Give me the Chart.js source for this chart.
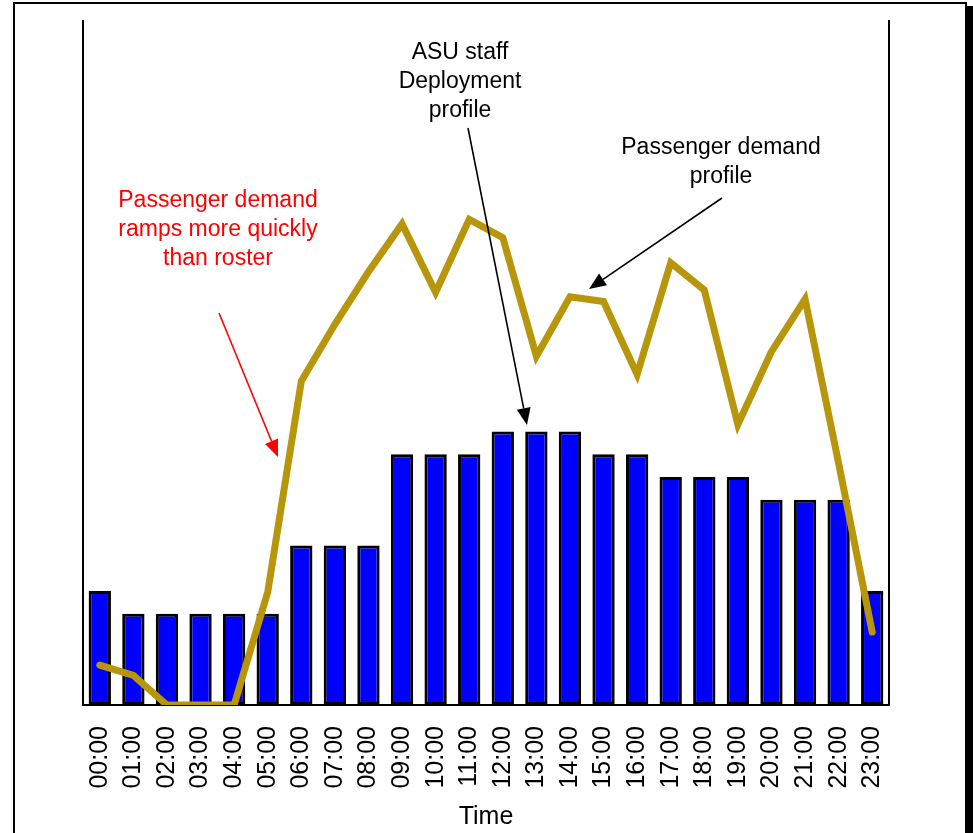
<!DOCTYPE html>
<html>
<head>
<meta charset="utf-8">
<title>ASU staff deployment vs passenger demand</title>
<script src="https://cdn.jsdelivr.net/npm/chart.js@4.4.0/dist/chart.umd.min.js"></script>
<style>
  html, body { margin: 0; padding: 0; background: #fff; }
  #wrap { width: 973px; height: 833px; }
</style>
</head>
<body>
<div id="wrap"><canvas id="chart" width="973" height="833"></canvas></div>
<script>
var FONT = '"Liberation Sans", Arial, Helvetica, sans-serif';

var HOURS = ['00:00', '01:00', '02:00', '03:00', '04:00', '05:00', '06:00', '07:00',
             '08:00', '09:00', '10:00', '11:00', '12:00', '13:00', '14:00', '15:00',
             '16:00', '17:00', '18:00', '19:00', '20:00', '21:00', '22:00', '23:00'];
// staff on duty per hour
var STAFF = [5, 4, 4, 4, 4, 4, 7, 7, 7, 11, 11, 11, 12, 12, 12, 11, 11, 10, 10, 10, 9, 9, 9, 5];
// passengers per hour
var DEMAND = [175, 130, 0, 0, 0, 495, 1420, 1670, 1900, 2110, 1810, 2130,
              2050, 1530, 1790, 1770, 1450, 1940, 1820, 1230, 1550, 1780, 1060, 320];
var STAFF_MAX = 30;
var DEMAND_MAX = 3000;

var ctx = document.getElementById('chart');

function drawLines(c, lines, x, y, step, color) {
  c.fillStyle = color;
  c.textAlign = 'center';
  c.textBaseline = 'alphabetic';
  c.font = '23px ' + FONT;
  lines.forEach(function(t, i) {
    c.fillText(t, x, y + i * step);
  });
}

function drawArrow(c, x1, y1, x2, y2, color) {
  var ang = Math.atan2(y2 - y1, x2 - x1);
  var len = 17, half = 7;
  var bx = x2 - Math.cos(ang) * len, by = y2 - Math.sin(ang) * len;
  c.strokeStyle = color;
  c.fillStyle = color;
  c.lineWidth = 1.6;
  c.beginPath();
  c.moveTo(x1, y1);
  c.lineTo(bx, by);
  c.stroke();
  c.beginPath();
  c.moveTo(x2, y2);
  c.lineTo(bx + Math.sin(ang) * half, by - Math.cos(ang) * half);
  c.lineTo(bx - Math.sin(ang) * half, by + Math.cos(ang) * half);
  c.closePath();
  c.fill();
}

var framePlugin = {
  id: 'frame',
  beforeDraw: function(chart) {
    var c = chart.ctx;
    c.save();
    c.fillStyle = '#fff';
    c.fillRect(0, 0, chart.width, chart.height);
    c.fillStyle = '#000';
    c.fillRect(967, 6, 6, chart.height);
    c.strokeStyle = '#000';
    c.lineWidth = 2;
    c.beginPath();
    c.moveTo(14, chart.height + 2);
    c.lineTo(14, 3);
    c.lineTo(966, 3);
    c.lineTo(966, chart.height + 2);
    c.stroke();
    c.restore();
  }
};

var notesPlugin = {
  id: 'notes',
  afterDraw: function(chart) {
    var c = chart.ctx;
    c.save();
    drawLines(c, ['ASU staff', 'Deployment', 'profile'], 460, 59, 29, '#000');
    drawArrow(c, 468, 128, 527, 425, '#000');
    drawLines(c, ['Passenger demand', 'profile'], 721, 154, 29, '#000');
    drawArrow(c, 722, 198, 589, 289, '#000');
    drawLines(c, ['Passenger demand', 'ramps more quickly', 'than roster'], 218, 207, 29, '#ff0000');
    drawArrow(c, 219, 313, 278, 457, '#ff0000');
    c.restore();
  }
};

var chart = new Chart(ctx, {
  type: 'bar',
  data: {
    labels: HOURS,
    datasets: [{
      type: 'line',
      label: 'Passenger demand',
      data: DEMAND,
      yAxisID: 'y2',
      borderColor: '#b8960b',
      borderWidth: 7,
      borderJoinStyle: 'miter',
      borderCapStyle: 'round',
      pointRadius: 0,
      tension: 0,
      fill: false,
      clip: 0,
      order: 0
    }, {
      label: 'ASU staff',
      data: STAFF,
      yAxisID: 'y',
      backgroundColor: '#0000ff',
      borderColor: '#000',
      borderWidth: 3,
      borderSkipped: false,
      barPercentage: 0.665,
      categoryPercentage: 1,
      order: 1
    }]
  },
  options: {
    responsive: false,
    animation: false,
    devicePixelRatio: 1,
    layout: { padding: { left: 83, right: 84, top: 21, bottom: 0 } },
    plugins: {
      legend: { display: false },
      tooltip: { enabled: false }
    },
    scales: {
      x: {
        z: 1,
        grid: { display: false },
        border: { display: true, color: '#000', width: 2 },
        ticks: {
          color: '#000',
          font: { family: FONT, size: 25 },
          minRotation: 90,
          maxRotation: 90,
          autoSkip: false,
          padding: 13
        },
        title: {
          display: true,
          text: 'Time',
          color: '#000',
          font: { family: FONT, size: 25 },
          padding: { top: 0, bottom: 1 }
        },
        afterFit: function(s) { s.height = 128; }
      },
      y: {
        position: 'left',
        z: 1,
        min: 0,
        max: STAFF_MAX,
        grid: { display: false },
        border: { display: true, color: '#000', width: 2 },
        ticks: { display: false },
        afterFit: function(s) { s.width = 0; }
      },
      y2: {
        position: 'right',
        z: 1,
        min: 0,
        max: DEMAND_MAX,
        grid: { display: false },
        border: { display: true, color: '#000', width: 2 },
        ticks: { display: false },
        afterFit: function(s) { s.width = 0; }
      }
    }
  },
  plugins: [framePlugin, notesPlugin]
});
</script>
</body>
</html>
